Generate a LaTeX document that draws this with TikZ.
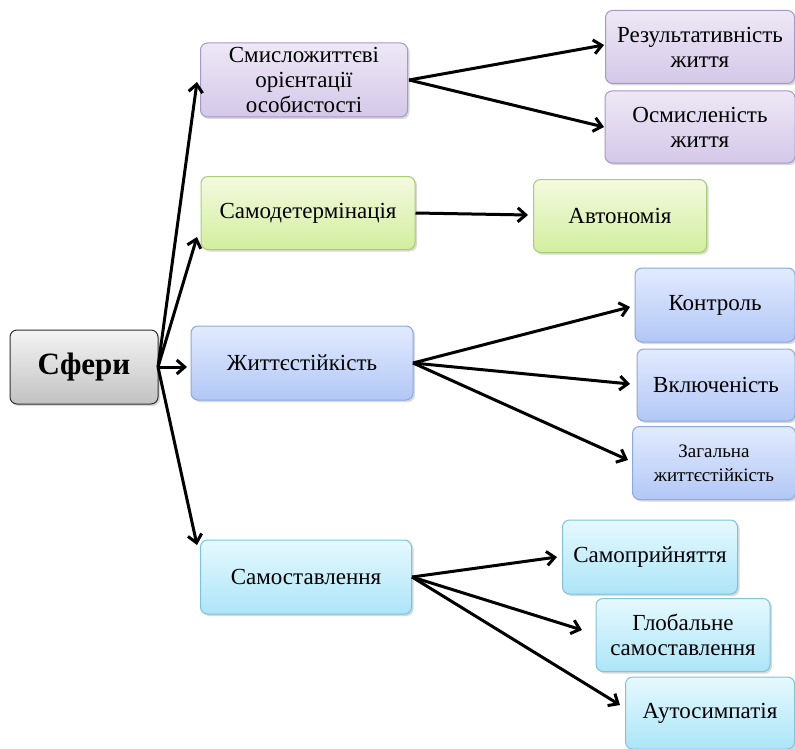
\documentclass[tikz,border=0pt]{standalone}
\usepackage{fontspec}
\setmainfont{Liberation Serif}
\usetikzlibrary{arrows.meta,shadows}
\definecolor{pT}{HTML}{EEE8F6}\definecolor{pB}{HTML}{D4C8E8}\definecolor{pD}{HTML}{A898C8}
\definecolor{gT}{HTML}{F4FADF}\definecolor{gB}{HTML}{D2EE9E}\definecolor{gD}{HTML}{A8CC78}
\definecolor{bT}{HTML}{E2EBFE}\definecolor{bB}{HTML}{B2C7F6}\definecolor{bD}{HTML}{8CA8E0}
\definecolor{cT}{HTML}{E6F9FE}\definecolor{cB}{HTML}{ACE5F8}\definecolor{cD}{HTML}{7CC4DC}
\definecolor{kT}{HTML}{F4F4F4}\definecolor{kB}{HTML}{C2C2C2}\definecolor{kD}{HTML}{303030}
\begin{document}
\begin{tikzpicture}[x=1pt,y=-1pt,
  box/.style={rounded corners=7pt, inner sep=0pt, align=center, font=\fontsize{23}{25}\selectfont,
    drop shadow={shadow xshift=2pt, shadow yshift=-2pt, opacity=0.3, fill=gray}},
  gray box/.style={box, draw=kD, line width=1pt, top color=kT, bottom color=kB},
  purp/.style={box, draw=pD, line width=1pt, top color=pT, bottom color=pB},
  grn/.style={box, draw=gD, line width=1pt, top color=gT, bottom color=gB},
  blu/.style={box, draw=bD, line width=1pt, top color=bT, bottom color=bB},
  cya/.style={box, draw=cD, line width=1pt, top color=cT, bottom color=cB},
  arr/.style={line width=3pt, -{Straight Barb[length=8pt,width=14pt]}}
]
\useasboundingbox (0,0) rectangle (795,749);
\node[gray box, minimum width=148pt, minimum height=74pt, font=\fontsize{31}{32}\selectfont\bfseries] (sf) at (84,367) {Сфери};
\node[purp, minimum width=207pt, minimum height=74pt] (a) at (304,80) {Смисложиттєві\\орієнтації\\особистості};
\node[grn, minimum width=214pt, minimum height=73pt] (b) at (308,213) {Самодетермінація};
\node[blu, minimum width=222pt, minimum height=74pt] (c) at (302,363) {Життєстійкість};
\node[cya, minimum width=211pt, minimum height=74pt] (d) at (306,577) {Самоставлення};
\node[purp, minimum width=189pt, minimum height=73pt] (a1) at (700,47) {Результативність\\життя};
\node[purp, minimum width=190pt, minimum height=72pt] (a2) at (700,127) {Осмисленість\\життя};
\node[grn, minimum width=173pt, minimum height=73pt] (b1) at (620,216) {Автономія};
\node[blu, minimum width=160pt, minimum height=74pt] (c1) at (715,305) {Контроль};
\node[blu, minimum width=158pt, minimum height=72pt] (c2) at (716,385) {Включеність};
\node[blu, minimum width=163pt, minimum height=73pt, font=\fontsize{19}{24}\selectfont] (c3) at (714,463) {Загальна\\життєстійкість};
\node[cya, minimum width=175pt, minimum height=74pt] (d1) at (650,557) {Самоприйняття};
\node[cya, minimum width=174pt, minimum height=73pt] (d2) at (683,635) {Глобальне\\самоставлення};
\node[cya, minimum width=169pt, minimum height=72pt] (d3) at (710,713) {Аутосимпатія};
\coordinate (s) at (158,367);
\draw[arr] (s) -- (197,82);
\draw[arr] (s) -- (197,237);
\draw[arr] (s) -- (187,367);
\draw[arr] (s) -- (197,545);
\coordinate (ao) at (409,80);
\draw[arr] (ao) -- (604,45);
\draw[arr] (ao) -- (604,127);
\draw[arr] (b.east) -- (528,215);
\coordinate (co) at (413,363);
\draw[arr] (co) -- (630,307);
\draw[arr] (co) -- (630,384);
\draw[arr] (co) -- (628,460);
\coordinate (do) at (412,577);
\draw[arr] (do) -- (557,557);
\draw[arr] (do) -- (582,630);
\draw[arr] (do) -- (620,705);
\end{tikzpicture}
\end{document}
